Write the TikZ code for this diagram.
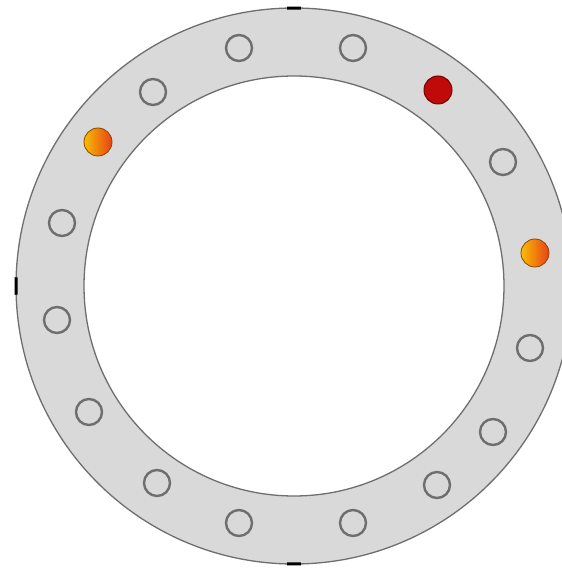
\documentclass[tikz,border=0pt]{standalone}
\definecolor{ringgray}{HTML}{D9D9D9}
\definecolor{edgegray}{HTML}{6E6E6E}
\definecolor{hotred}{HTML}{C00A0A}
\definecolor{hotyellow}{HTML}{F7BE00}
\definecolor{hotorange}{HTML}{E8401A}
\begin{document}
\begin{tikzpicture}[x=1pt, y=1pt,
  every node/.style={inner sep=0pt, circle},
  hole/.style={draw=edgegray, line width=2.4pt, fill=ringgray, minimum size=26pt},
  hotred/.style={draw=red!45!black, line width=1pt, fill=hotred, minimum size=28pt},
  hotspot/.style={draw=orange!55!black, line width=0.8pt, left color=hotyellow, right color=hotorange, minimum size=28pt},
  tickmark/.style={line width=3pt, black}]
  \clip (0,0) rectangle (562,571);
  \coordinate (c) at (294,285);
  % flange ring
  \fill[ringgray, even odd rule] (c) circle (278) (c) circle (210);
  \draw[edgegray, line width=1.3pt] (c) circle (278);
  \draw[edgegray, line width=1.3pt] (c) circle (210);
  \draw[tickmark] (c) ++(88.6:278) arc (88.6:91.4:278);
  \draw[tickmark] (c) ++(178.2:278) arc (178.2:181.8:278);
  \draw[tickmark] (c) ++(268.6:278) arc (268.6:271.4:278);
  % bolt holes
  \node[hole] (h1) at (239,523) {};
  \node[hole] (h2) at (353,523) {};
  \node[hole] (h3) at (153,479) {};
  \node[hotred] (h4) at (438,481) {};
  \node[hotspot] (h5) at (98,429) {};
  \node[hole] (h6) at (503,409) {};
  \node[hole] (h7) at (62,348) {};
  \node[hotspot] (h8) at (535,318) {};
  \node[hole] (h9) at (57,251) {};
  \node[hole] (h10) at (530,223) {};
  \node[hole] (h11) at (89,159) {};
  \node[hole] (h12) at (493,139) {};
  \node[hole] (h13) at (157,88) {};
  \node[hole] (h14) at (437,86) {};
  \node[hole] (h15) at (239,48) {};
  \node[hole] (h16) at (353,48) {};
\end{tikzpicture}
\end{document}
